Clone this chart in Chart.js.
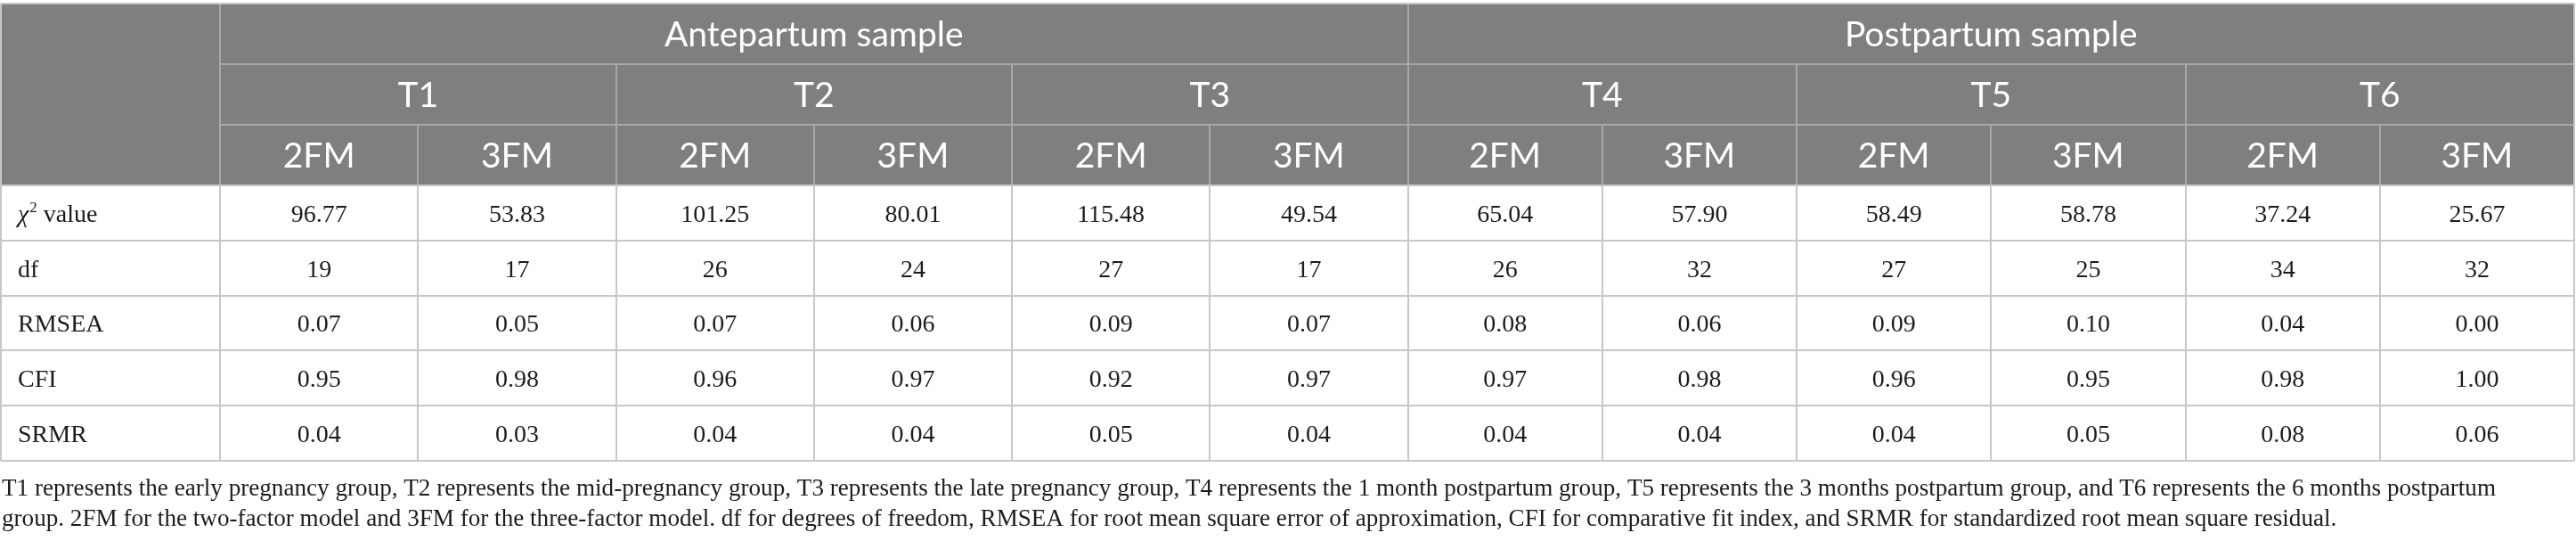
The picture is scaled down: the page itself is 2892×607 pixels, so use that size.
<!DOCTYPE html>
<html>
<head>
<meta charset="utf-8">
<script src="https://cdn.jsdelivr.net/npm/chart.js@4.4.1/dist/chart.umd.min.js"></script>
<style>
  html, body { margin: 0; padding: 0; background: #ffffff; }
  #wrap { width: 2892px; height: 607px; }
</style>
</head>
<body>
<div id="wrap"><canvas id="fitTable"></canvas></div>
<script>
// table content
const groups = ["Antepartum sample", "Postpartum sample"];
const periods = ["T1", "T2", "T3", "T4", "T5", "T6"];
const models = ["2FM", "3FM"];
const rowLabels = ["value", "df", "RMSEA", "CFI", "SRMR"];
const rowDecimals = [2, 0, 2, 2, 2];

const chiSquare = [96.77, 53.83, 101.25, 80.01, 115.48, 49.54, 65.04, 57.90, 58.49, 58.78, 37.24, 25.67];
const dfValues  = [19, 17, 26, 24, 27, 17, 26, 32, 27, 25, 34, 32];
const rmsea     = [0.07, 0.05, 0.07, 0.06, 0.09, 0.07, 0.08, 0.06, 0.09, 0.10, 0.04, 0.00];
const cfi       = [0.95, 0.98, 0.96, 0.97, 0.92, 0.97, 0.97, 0.98, 0.96, 0.95, 0.98, 1.00];
const srmr      = [0.04, 0.03, 0.04, 0.04, 0.05, 0.04, 0.04, 0.04, 0.04, 0.05, 0.08, 0.06];

const footnote = [
    "T1 represents the early pregnancy group, T2 represents the mid-pregnancy group, T3 represents the late pregnancy group, T4 represents the 1 month postpartum group, T5 represents the 3 months postpartum group, and T6 represents the 6 months postpartum",
    "group. 2FM for the two-factor model and 3FM for the three-factor model. df for degrees of freedom, RMSEA for root mean square error of approximation, CFI for comparative fit index, and SRMR for standardized root mean square residual."
];

// layout in scale units
const NCOLS = periods.length * models.length;
const HALF = NCOLS / 2;
const LABEL_UNITS = 1.107;   // label column width, in antepartum-column units
const POST_UNITS = 0.982;    // postpartum columns are a little narrower
const HEAD_UNITS = 1.10;     // header row height, in body-row units
const HEAD_ROWS = 3;
const TOTAL_UNITS = HEAD_ROWS * HEAD_UNITS + rowLabels.length;
const X_MAX = HALF + HALF * POST_UNITS;

const HEAD_BG = "#7f807e";
const HEAD_LINE = "#a7a8a6";
const BODY_LINE = "#c7c7c7";
const TEXT = "#1c1c1c";
const SANS = "Lato, 'Open Sans', sans-serif";
const SERIF = "'Liberation Serif', 'DejaVu Serif', serif";

const seriesRows = [chiSquare, dfValues, rmsea, cfi, srmr];

function rowTop(i) {
    return i <= HEAD_ROWS ? i * HEAD_UNITS : HEAD_ROWS * HEAD_UNITS + (i - HEAD_ROWS);
}
function colLeft(c) {
    return c <= HALF ? c : HALF + (c - HALF) * POST_UNITS;
}
function colMid(c) {
    return (colLeft(c) + colLeft(c + 1)) / 2;
}

// one point per body cell, at the cell centre
const cellPoints = [];
seriesRows.forEach((values, r) => {
    values.forEach((v, c) => {
        cellPoints.push({
            x: colMid(c),
            y: rowTop(HEAD_ROWS + r) + 0.5,
            text: v.toFixed(rowDecimals[r])
        });
    });
});

function line(ctx, x1, y1, x2, y2) {
    ctx.beginPath();
    ctx.moveTo(x1, y1);
    ctx.lineTo(x2, y2);
    ctx.stroke();
}

const tablePlugin = {
    id: "fitTable",
    beforeDatasetsDraw(chart) {
        const { ctx, scales: { x, y } } = chart;
        const X = v => Math.round(x.getPixelForValue(v));
        const Y = v => Math.round(y.getPixelForValue(v));
        const left = X(-LABEL_UNITS), right = X(X_MAX);
        const headBottom = Y(rowTop(HEAD_ROWS));

        ctx.save();
        ctx.fillStyle = HEAD_BG;
        ctx.fillRect(left, Y(0), right - left, headBottom - Y(0));

        ctx.lineWidth = 2;
        // header rules
        ctx.strokeStyle = HEAD_LINE;
        line(ctx, X(0), Y(rowTop(1)), right, Y(rowTop(1)));
        line(ctx, X(0), Y(rowTop(2)), right, Y(rowTop(2)));
        line(ctx, X(0), Y(0), X(0), headBottom);
        line(ctx, X(HALF), Y(0), X(HALF), headBottom);
        for (let c = 1; c < NCOLS; c++) {
            const top = c % 2 === 0 ? rowTop(1) : rowTop(2);
            line(ctx, X(colLeft(c)), Y(top), X(colLeft(c)), headBottom);
        }

        // body rules
        ctx.strokeStyle = BODY_LINE;
        line(ctx, left, Y(0), right, Y(0));
        for (let r = HEAD_ROWS; r <= HEAD_ROWS + rowLabels.length; r++) {
            line(ctx, left, Y(rowTop(r)), right, Y(rowTop(r)));
        }
        const bottom = Y(rowTop(HEAD_ROWS + rowLabels.length));
        line(ctx, left, Y(0), left, bottom);
        line(ctx, right, Y(0), right, bottom);
        for (let c = 0; c < NCOLS; c++) {
            line(ctx, X(colLeft(c)), headBottom, X(colLeft(c)), bottom);
        }
        ctx.restore();
    },
    afterDatasetsDraw(chart) {
        const { ctx, scales: { x, y } } = chart;
        const X = v => x.getPixelForValue(v);
        const Y = v => y.getPixelForValue(v);
        ctx.save();

        // header text
        ctx.fillStyle = "#ffffff";
        ctx.font = "39px " + SANS;
        ctx.textAlign = "center";
        ctx.textBaseline = "alphabetic";
        const headBase = r => (Y(rowTop(r)) + Y(rowTop(r + 1))) / 2 + 14.5;
        groups.forEach((g, i) => {
            const mid = (colLeft(i * HALF) + colLeft((i + 1) * HALF)) / 2;
            ctx.fillText(g, X(mid), headBase(0));
        });
        periods.forEach((p, i) => {
            const mid = (colLeft(i * 2) + colLeft(i * 2 + 2)) / 2;
            ctx.fillText(p, X(mid), headBase(1));
        });
        for (let c = 0; c < NCOLS; c++) {
            ctx.fillText(models[c % 2], X(colMid(c)), headBase(2));
        }

        // body cells, placed at the dataset's own point positions
        ctx.fillStyle = TEXT;
        ctx.font = "28px " + SERIF;
        const meta = chart.getDatasetMeta(0);
        meta.data.forEach((pt, i) => {
            ctx.fillText(cellPoints[i].text, pt.x, pt.y + 10);
        });

        // row labels
        ctx.textAlign = "left";
        const lx = X(-LABEL_UNITS) + 19;
        rowLabels.forEach((lab, r) => {
            const base = Y(rowTop(HEAD_ROWS + r) + 0.5) + 10;
            if (r === 0) {
                ctx.font = "italic 28px " + SERIF;
                ctx.fillText("\u03c7", lx, base);
                let cx = lx + ctx.measureText("\u03c7").width + 1;
                ctx.font = "17px " + SERIF;
                ctx.fillText("2", cx, base - 11);
                cx += ctx.measureText("2").width;
                ctx.font = "28px " + SERIF;
                ctx.fillText(" " + lab, cx, base);
            } else {
                ctx.font = "28px " + SERIF;
                ctx.fillText(lab, lx, base);
            }
        });
        ctx.restore();
    },
    afterDraw(chart) {
        const { ctx, chartArea } = chart;
        ctx.save();
        ctx.fillStyle = TEXT;
        ctx.font = "27px " + SERIF;
        ctx.textAlign = "left";
        ctx.textBaseline = "alphabetic";
        const sx = 2800 / ctx.measureText(footnote[0]).width;
        footnote.forEach((txt, i) => {
            ctx.save();
            ctx.translate(chartArea.left + 1, chartArea.bottom + 39 + i * 34);
            ctx.scale(sx, 1);
            ctx.fillText(txt, 0, 0);
            ctx.restore();
        });
        ctx.restore();
    }
};

const canvas = document.getElementById("fitTable");
const chart = new Chart(canvas, {
    type: "scatter",
    data: {
        datasets: [{
            data: cellPoints,
            pointRadius: 0,
            pointHoverRadius: 0
        }]
    },
    options: {
        responsive: true,
        maintainAspectRatio: false,
        animation: false,
        events: [],
        layout: {
            padding: { left: 1, right: 2, top: 4, bottom: 90 }
        },
        scales: {
            x: { type: "linear", min: -LABEL_UNITS, max: X_MAX, display: false },
            y: { type: "linear", min: 0, max: TOTAL_UNITS, reverse: true, display: false }
        },
        plugins: {
            legend: { display: false },
            tooltip: { enabled: false }
        }
    },
    plugins: [tablePlugin]
});
</script>
</body>
</html>
